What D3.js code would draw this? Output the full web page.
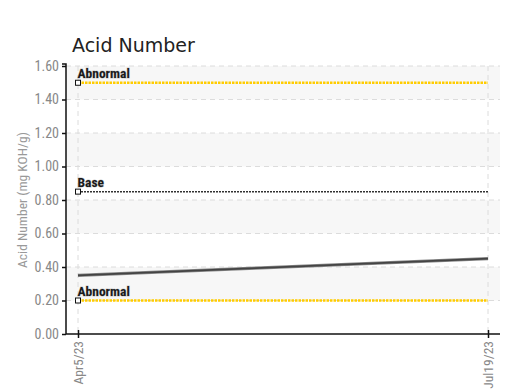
<!DOCTYPE html>
<html><head><meta charset="utf-8">
<script src="https://cdn.jsdelivr.net/npm/d3@7/dist/d3.min.js"></script>
<style>
body{margin:0;background:#fff;}
svg{display:block;}
.cond{font-family:"Liberation Sans Narrow","Roboto","DejaVu Sans Condensed",sans-serif;font-stretch:condensed;}
</style>
</head><body>
<svg id="chart" width="508" height="391"></svg>
<script>
const title = "Acid Number";
const yLabel = "Acid Number (mg KOH/g)";
const dates = ["Apr5/23", "Jul19/23"];
const values = [0.35, 0.45];
const yTicks = [0, 0.2, 0.4, 0.6, 0.8, 1.0, 1.2, 1.4, 1.6];
const limitNames = ["Abnormal", "Base", "Abnormal"];
const limitValues = [1.5, 0.85, 0.2];
const limitColors = ["#ffcc00", "#333333", "#ffcc00"];

(function(){
const svg = d3.select("#chart");
const pL = 66, pR = 500, pT = 66, pB = 334;
const x = d3.scalePoint().domain(dates).range([78, 488]);
const y = d3.scaleLinear().domain([0, 1.6]).range([pB, pT]);

// bands
const bands = [];
for (let i = 0; i < yTicks.length - 1; i++) if (i % 2 === 1) bands.push([yTicks[i], yTicks[i+1]]);
svg.selectAll("rect.band").data(bands).join("rect")
  .attr("x", pL).attr("width", pR - pL)
  .attr("y", d => y(d[1])).attr("height", d => y(d[0]) - y(d[1]))
  .attr("fill", "#f7f7f7");

// horizontal grid
svg.selectAll("line.hg").data(yTicks.slice(1)).join("line")
  .attr("x1", pL).attr("x2", pR)
  .attr("y1", d => y(d)).attr("y2", d => y(d))
  .attr("stroke", "#dcdcdc").attr("stroke-dasharray", "5,4");
// vertical grid
svg.selectAll("line.vg").data(dates).join("line")
  .attr("x1", d => x(d)).attr("x2", d => x(d))
  .attr("y1", pT).attr("y2", pB)
  .attr("stroke", "#dcdcdc").attr("stroke-dasharray", "5,4");

// limits
limitValues.forEach((v, i) => {
  svg.append("line")
    .attr("x1", x(dates[0])).attr("x2", x(dates[dates.length-1]))
    .attr("y1", y(v)).attr("y2", y(v))
    .attr("stroke", limitColors[i]).attr("stroke-width", i === 1 ? 1.5 : 2.5)
    .attr("stroke-dasharray", i === 1 ? "2,1" : "2.5,1");
  svg.append("rect")
    .attr("x", x(dates[0]) - 2.5).attr("y", y(v) - 2.5)
    .attr("width", 5).attr("height", 5)
    .attr("fill", "#fff").attr("stroke", "#111").attr("stroke-width", 1);
  svg.append("text").attr("class", "cond")
    .attr("x", x(dates[0]) - 0.5).attr("y", y(v) - 5)
    .attr("font-size", 13.5).attr("font-weight", "bold").attr("fill", "#1a1a1a")
    .style("paint-order", "stroke").attr("stroke", "#c8c8c8").attr("stroke-width", 0.8)
    .text(limitNames[i]);
});

// data line
const line = d3.line().x((d, i) => x(dates[i])).y(d => y(d));
svg.append("path").datum(values).attr("d", line)
  .attr("fill", "none").attr("stroke", "#8a8a8a").attr("stroke-width", 3.5);
svg.append("path").datum(values).attr("d", line)
  .attr("fill", "none").attr("stroke", "#444").attr("stroke-width", 2);

// axes
const yAxis = d3.axisLeft(y).tickValues(yTicks).tickFormat(d3.format(".2f")).tickSize(4).tickPadding(3);
const gy = svg.append("g").attr("transform", `translate(${pL},0)`).call(yAxis);
gy.select(".domain").attr("stroke", "#111").attr("stroke-width", 1.5).attr("d", `M-4,${pT-2}H0V${pB}`);
gy.selectAll(".tick line").attr("stroke", "#111").attr("stroke-width", 1.5);
gy.selectAll("text").attr("class", "cond").attr("font-size", 14).attr("fill", "#888");

const xAxis = d3.axisBottom(x).tickSize(0);
const gx = svg.append("g").attr("transform", `translate(0,${pB})`).call(xAxis);
gx.select(".domain").attr("stroke", "#111").attr("stroke-width", 1.5).attr("d", `M${pL},0H${pR}`);
gx.selectAll(".tick").append("line").attr("y1", -4).attr("y2", 4).attr("stroke", "#111").attr("stroke-width", 1.5);
gx.selectAll(".tick text").attr("class", "cond").attr("font-size", 13.5).attr("fill", "#888")
  .attr("transform", "rotate(-90)").attr("text-anchor", "end")
  .attr("x", -7).attr("y", 0).attr("dy", "0.35em");

// title
svg.append("text").attr("x", 72).attr("y", 52)
  .attr("font-family", "DejaVu Sans, sans-serif").attr("font-size", 19).attr("fill", "#222")
  .text(title);
// y label
svg.append("text").attr("class", "cond")
  .attr("transform", `translate(27,${(pT+pB)/2}) rotate(-90)`)
  .attr("text-anchor", "middle").attr("font-size", 13.5).attr("fill", "#999")
  .text(yLabel);
})();
</script>
</body></html>
